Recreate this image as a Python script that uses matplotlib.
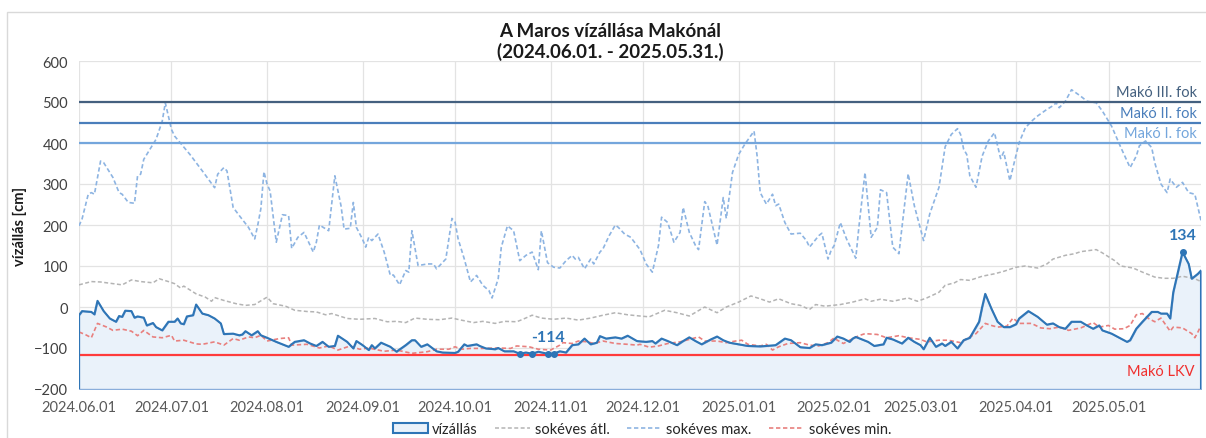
import pandas as pd
import matplotlib
matplotlib.use("Agg")
import matplotlib.pyplot as plt
import matplotlib.dates as mdates
from matplotlib.patches import Patch, Rectangle
from matplotlib.lines import Line2D

plt.rcParams['font.family'] = ['Lato', 'DejaVu Sans']

start = pd.Timestamp('2024-06-01')
end = pd.Timestamp('2025-05-31')

# vízállás (cm), day offset from 2024.06.01
viz_days = [0, 1, 4, 5, 6, 8, 10, 12, 13, 14, 15, 17, 18, 19, 21, 22, 24, 25, 27, 29,
            31, 32, 33, 34, 35, 37, 38, 40, 42, 44, 46, 47, 50, 52, 53, 54, 56, 58, 59, 61,
            64, 66, 68, 70, 73, 75, 77, 79, 81, 83, 84, 87, 89, 90, 92, 94, 95, 96, 98, 101,
            103, 106, 108, 109, 111, 113, 116, 118, 122, 123, 125, 126, 129, 130, 132, 135, 136, 138, 141, 143,
            145, 147, 149, 152, 154, 156, 158, 160, 162, 164, 166, 168, 169, 171, 174, 176, 178, 181, 184, 186,
            187, 189, 191, 194, 196, 198, 200, 202, 205, 207, 209, 211, 214, 217, 221, 223, 226, 229, 231, 234,
            237, 239, 241, 244, 246, 248, 250, 251, 252, 254, 256, 258, 261, 262, 264, 267, 269, 271, 273, 274,
            276, 278, 280, 281, 283, 284, 285, 287, 289, 292, 293, 294, 296, 298, 300, 302, 304, 305, 308, 311,
            314, 316, 318, 320, 322, 325, 327, 329, 331, 332, 335, 337, 340, 341, 343, 345, 348, 350, 351, 353,
            354, 355, 357, 358, 360, 361, 363, 364]
viz_vals = [-20, -10, -12, -18, 15, -10, -28, -36, -22, -24, -9, -10, -26, -23, -26, -45, -39, -49, -57, -36,
            -36, -28, -40, -42, -23, -20, 6, -16, -20, -28, -40, -66, -65, -69, -67, -59, -69, -59, -69, -75,
            -85, -91, -97, -85, -81, -89, -95, -85, -97, -95, -70, -85, -101, -83, -93, -105, -93, -101, -87, -97,
            -109, -93, -81, -81, -97, -91, -108, -111, -112, -109, -91, -95, -91, -95, -101, -103, -100, -108, -108, -114,
            -111, -114, -109, -114, -114, -108, -111, -93, -91, -77, -91, -87, -71, -77, -74, -77, -70, -83, -85, -83,
            -89, -77, -83, -93, -83, -74, -83, -91, -79, -72, -81, -87, -91, -95, -96, -95, -93, -77, -81, -98,
            -100, -91, -93, -87, -72, -77, -85, -77, -73, -79, -85, -95, -91, -75, -79, -89, -75, -85, -93, -103,
            -75, -97, -89, -95, -85, -93, -101, -81, -75, -36, 0, 32, -4, -36, -49, -49, -42, -28, -10, -24,
            -43, -40, -49, -53, -36, -36, -45, -53, -45, -57, -65, -73, -85, -81, -53, -36, -12, -12, -16, -16,
            -28, 36, 101, 134, 105, 69, 81, 89]

# sokéves max.
max_days = [0, 1, 3, 4, 5, 7, 8, 10, 11, 13, 14, 16, 18, 19, 20, 21, 25, 27, 28, 30,
            31, 36, 40, 44, 45, 47, 48, 50, 52, 55, 57, 58, 59, 60, 61, 62, 64, 66, 68, 69,
            71, 73, 76, 77, 78, 81, 83, 85, 86, 88, 89, 90, 92, 93, 94, 95, 97, 99, 101, 102,
            104, 106, 107, 108, 110, 113, 115, 116, 119, 121, 122, 123, 125, 127, 129, 131, 133, 134, 136, 137,
            139, 141, 143, 145, 147, 149, 150, 152, 154, 156, 158, 160, 161, 162, 164, 166, 167, 169, 170, 172,
            174, 175, 177, 179, 181, 182, 184, 186, 188, 189, 191, 193, 195, 196, 198, 200, 201, 203, 204, 207,
            209, 210, 212, 214, 216, 219, 220, 221, 223, 225, 226, 227, 229, 231, 234, 236, 237, 240, 241, 243,
            244, 245, 247, 249, 252, 253, 255, 257, 259, 260, 262, 264, 266, 269, 271, 274, 276, 279, 281, 283,
            285, 286, 287, 288, 289, 291, 293, 295, 297, 299, 300, 302, 303, 305, 307, 309, 311, 314, 316, 317,
            318, 320, 322, 325, 327, 330, 332, 335, 338, 341, 343, 344, 346, 348, 349, 351, 353, 354, 356, 358,
            360, 362, 364]
max_vals = [198, 215, 275, 279, 275, 356, 352, 328, 316, 279, 275, 255, 253, 320, 324, 360, 409, 453, 498, 433,
            417, 372, 332, 291, 324, 340, 332, 243, 223, 194, 166, 200, 240, 330, 300, 283, 158, 225, 223, 143,
            170, 182, 134, 158, 200, 186, 320, 247, 190, 192, 255, 194, 165, 146, 170, 162, 178, 134, 77, 78,
            54, 89, 85, 186, 101, 105, 105, 93, 117, 216, 207, 166, 117, 61, 77, 53, 40, 22, 69, 146,
            198, 186, 113, 126, 134, 91, 186, 108, 97, 95, 113, 126, 117, 121, 93, 117, 105, 134, 142, 174,
            200, 194, 178, 170, 150, 140, 105, 85, 150, 219, 206, 158, 182, 243, 182, 150, 140, 257, 247, 151,
            267, 216, 328, 372, 397, 429, 368, 279, 251, 275, 247, 251, 206, 178, 180, 162, 146, 174, 180, 117,
            138, 150, 206, 166, 119, 194, 328, 170, 194, 286, 279, 146, 130, 325, 247, 162, 227, 292, 391, 421,
            435, 421, 385, 372, 320, 292, 368, 405, 425, 362, 378, 308, 340, 401, 437, 453, 466, 482, 491, 498,
            486, 502, 530, 514, 502, 498, 478, 441, 389, 340, 368, 393, 405, 389, 352, 300, 279, 312, 292, 304,
            279, 275, 211]

# sokéves átl.
avg_days = [0, 4, 7, 11, 14, 17, 20, 24, 26, 29, 31, 33, 34, 38, 41, 43, 44, 47, 51, 54,
            57, 61, 63, 67, 70, 74, 77, 80, 82, 87, 91, 96, 100, 103, 106, 109, 113, 117, 121, 124,
            128, 131, 135, 138, 142, 144, 147, 150, 154, 158, 162, 166, 170, 174, 178, 182, 185, 190, 194, 198,
            203, 207, 210, 214, 218, 221, 224, 227, 231, 234, 237, 239, 242, 247, 251, 255, 257, 260, 264, 269,
            272, 275, 279, 281, 284, 286, 289, 293, 297, 300, 304, 307, 311, 314, 316, 320, 323, 325, 330, 332,
            336, 338, 342, 345, 349, 352, 355, 358, 362, 364]
avg_vals = [54, 62, 61, 57, 54, 66, 62, 59, 69, 62, 57, 46, 51, 32, 24, 14, 23, 16, 8, 4,
            6, 24, 8, 2, -8, -11, -12, -19, -16, -28, -30, -28, -36, -35, -38, -27, -30, -31, -27, -32,
            -38, -35, -40, -35, -36, -30, -20, -27, -30, -27, -32, -27, -20, -14, -19, -22, -24, -8, -14, -22,
            0, -14, 0, 12, 27, 20, 12, 20, 8, 4, -6, 6, 2, 6, 12, 20, 14, 19, 14, 22,
            14, 22, 36, 53, 59, 67, 65, 75, 81, 87, 97, 100, 95, 105, 117, 126, 130, 135, 140, 132,
            113, 100, 95, 85, 73, 70, 70, 75, 69, 62]

# sokéves min.
min_days = [0, 2, 4, 6, 9, 11, 14, 17, 19, 21, 24, 27, 30, 31, 34, 38, 40, 44, 47, 50,
            52, 55, 57, 59, 61, 65, 68, 69, 74, 78, 81, 84, 88, 91, 94, 99, 103, 108, 113, 116,
            120, 122, 124, 127, 131, 136, 140, 142, 146, 149, 153, 156, 157, 160, 162, 165, 167, 170, 174, 178,
            181, 182, 185, 188, 191, 195, 198, 201, 203, 207, 210, 213, 215, 217, 221, 223, 225, 227, 230, 234,
            237, 240, 243, 245, 246, 248, 250, 253, 255, 259, 262, 266, 269, 273, 275, 279, 282, 286, 288, 291,
            294, 296, 298, 301, 303, 305, 309, 312, 315, 318, 321, 325, 329, 331, 334, 336, 339, 341, 343, 345,
            347, 349, 351, 354, 355, 358, 361, 362, 363, 364]
min_vals = [-61, -67, -75, -40, -49, -57, -54, -59, -70, -57, -73, -75, -69, -83, -81, -90, -91, -85, -93, -77,
            -81, -73, -75, -69, -83, -77, -75, -93, -91, -100, -95, -105, -95, -103, -100, -108, -105, -113, -109, -103,
            -103, -97, -103, -101, -101, -100, -101, -95, -97, -103, -105, -93, -87, -89, -83, -85, -89, -83, -89, -91,
            -93, -91, -98, -95, -89, -85, -79, -73, -83, -83, -87, -83, -81, -91, -95, -91, -105, -97, -89, -87,
            -93, -95, -87, -75, -81, -89, -81, -70, -65, -67, -75, -70, -75, -79, -85, -81, -81, -87, -77, -65,
            -40, -45, -49, -47, -27, -40, -40, -51, -53, -49, -57, -51, -38, -49, -45, -54, -53, -45, -19, -16,
            -28, -36, -27, -59, -49, -51, -65, -75, -61, -45]

# küszöbértékek
fok_names = ['Makó III. fok', 'Makó II. fok', 'Makó I. fok']
fok_levels = [500, 450, 400]
fok_colors = ['#44607F', '#4A7EBB', '#74A6DC']
lkv_level = -116

yticks = list(range(-200, 601, 100))


def to_dates(days):
    return start + pd.to_timedelta(days, unit='D')


viz_x = to_dates(viz_days)
line_col = '#2E75B6'
fill_col = '#EAF2FA'

fig = plt.figure(figsize=(12.06, 4.39), dpi=100)
ax = fig.add_axes([79 / 1206, 49 / 439, 1122 / 1206, 328 / 439])

# outer chart frame
fig.patches.append(Rectangle((7 / 1206, -0.1), 1.2, (439 - 13) / 439 + 0.1, transform=fig.transFigure,
                             fill=False, edgecolor='#D9D9D9', lw=1.0))

# vízállás area
ax.fill_between(viz_x, viz_vals, yticks[0], facecolor=fill_col, edgecolor='#8AAEDB', lw=1.0, zorder=2)
ax.plot([viz_x[0]] + list(viz_x) + [viz_x[-1]], [yticks[0]] + viz_vals + [yticks[0]],
        color=line_col, lw=1.5, zorder=5, solid_joinstyle='round')

dash = (0, (2.6, 1.6))
ax.plot(to_dates(avg_days), avg_vals, color='#B4B4B4', lw=1.1, ls=dash, zorder=3)
ax.plot(to_dates(max_days), max_vals, color='#8DB4E2', lw=1.2, ls=dash, zorder=3)
ax.plot(to_dates(min_days), min_vals, color='#E8807E', lw=1.2, ls=dash, zorder=4)

# threshold lines
for name, lev, col in zip(fok_names, fok_levels, fok_colors):
    ax.axhline(lev, color=col, lw=1.6, zorder=3)
    ax.annotate(name, xy=(1, lev), xycoords=('axes fraction', 'data'), xytext=(-3, 2),
                textcoords='offset points', ha='right', va='bottom', fontsize=10.5, color=col)
ax.axhline(lkv_level, color='#FF3B3B', lw=1.6, zorder=4)
ax.annotate('Makó LKV', xy=(1, lkv_level), xycoords=('axes fraction', 'data'), xytext=(-5, -7),
            textcoords='offset points', ha='right', va='top', fontsize=10.5, color='#F0302E')

# min / max labels
vmin = min(viz_vals)
vmax = max(viz_vals)
min_x = [viz_x[i] for i, v in enumerate(viz_vals) if v == vmin]
max_x = [viz_x[i] for i, v in enumerate(viz_vals) if v == vmax]
ax.plot(min_x, [vmin] * len(min_x), 'o', color=line_col, ms=4, zorder=6)
ax.plot(max_x, [vmax] * len(max_x), 'o', color=line_col, ms=4, zorder=6)
ax.annotate(str(vmin), xy=(min_x[2], vmin), xytext=(0, 7), textcoords='offset points',
            ha='center', va='bottom', fontsize=11.5, fontweight='bold', color=line_col)
ax.annotate(str(vmax), xy=(max_x[0], vmax), xytext=(0, 7), textcoords='offset points',
            ha='center', va='bottom', fontsize=11.5, fontweight='bold', color=line_col)

# axes
ax.set_xlim(start, end)
ax.set_ylim(yticks[0], yticks[-1])
ax.set_yticks(yticks)
ax.set_xticks(pd.date_range(start, end, freq='MS'))
ax.xaxis.set_major_formatter(mdates.DateFormatter('%Y.%m.%d'))
ax.tick_params(axis='both', length=0, labelsize=10.5)
ax.tick_params(axis='x', pad=8, labelcolor='#595959')
ax.tick_params(axis='y', pad=8, labelcolor='#404040')
ax.grid(True, color='#E3E3E3', lw=0.9, zorder=0)
ax.set_axisbelow(True)
for s in ax.spines.values():
    s.set_visible(False)

fig.text(20 / 1206, 1 - 226 / 439, 'vízállás [cm]', rotation=90, ha='center', va='center',
         fontsize=10.5, fontweight='bold', color='#1A1A1A')
fig.text(610 / 1206, 1 - 42 / 439, 'A Maros vízállása Makónál\n(2024.06.01. - 2025.05.31.)',
         ha='center', va='center', fontsize=13.5, fontweight='bold', color='#1A1A1A', linespacing=1.15)

handles = [Patch(facecolor=fill_col, edgecolor=line_col, lw=1.5),
           Line2D([], [], color='#B4B4B4', lw=1.1, ls=dash),
           Line2D([], [], color='#8DB4E2', lw=1.2, ls=dash),
           Line2D([], [], color='#E8807E', lw=1.2, ls=dash)]
labels = ['vízállás', 'sokéves átl.', 'sokéves max.', 'sokéves min.']
fig.legend(handles, labels, loc='center', bbox_to_anchor=(642 / 1206, 9 / 439), ncol=4, frameon=False,
           fontsize=10.5, handlelength=2.4, handletextpad=0.3, columnspacing=1.2, labelcolor='#262626')

fig.savefig('out.png', dpi=100)
